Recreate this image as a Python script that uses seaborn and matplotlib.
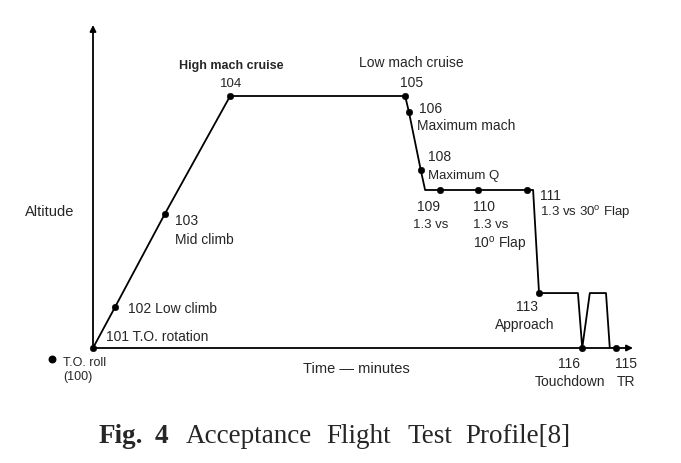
import numpy as np
import pandas as pd
import matplotlib
matplotlib.use('Agg')
import matplotlib.pyplot as plt
import seaborn as sns

# Profile path (time in arbitrary units, altitude in % of cruise altitude)
path_time = [0, 4.1, 13.3, 25.4, 57.8, 58.5, 60.7, 61.5, 64.3, 71.3, 80.4, 81.5,
             82.6, 89.8, 90.6, 92.0, 95.0, 95.7, 96.9]
path_alt = [0, 16.3, 53.2, 100, 100, 93.7, 70.6, 62.7, 62.7, 62.7, 62.7, 62.7,
            21.8, 21.8, 0, 21.8, 21.8, 0, 0]

# Test points (marked with dots)
point_ids = ['101', '102', '103', '104', '105', '106', '108', '109', '110', '111',
             '113', '116', '115']
point_time = [0, 4.1, 13.3, 25.4, 57.8, 58.5, 60.7, 64.3, 71.3, 80.4, 82.6, 90.6, 96.9]
point_alt = [0, 16.3, 53.2, 100, 100, 93.7, 70.6, 62.7, 62.7, 62.7, 21.8, 0, 0]

# T.O. roll point sits outside the axes
roll_time = -7.6
roll_alt = -4.4

path = pd.DataFrame({'time': path_time, 'alt': path_alt})
pts = pd.DataFrame({'id': point_ids, 'time': point_time, 'alt': point_alt})

sns.set_style('white')
plt.rcParams['font.family'] = ['Liberation Sans', 'DejaVu Sans']
plt.rcParams['mathtext.fontset'] = 'custom'
plt.rcParams['mathtext.rm'] = 'Liberation Sans'

fig = plt.figure(figsize=(6.81, 4.64), dpi=100)
ax = fig.add_axes([93 / 681, 1 - 349 / 464, 540 / 681, 323 / 464])

sns.lineplot(data=path, x='time', y='alt', ax=ax, color='black', lw=1.3,
             sort=False, estimator=None)
sns.scatterplot(data=pts, x='time', y='alt', ax=ax, color='black', s=22,
                edgecolor='black', zorder=3, clip_on=False)
ax.scatter([roll_time], [roll_alt], color='black', s=22, clip_on=False, zorder=3)

ax.set_xlim(0, 100)
ax.set_ylim(0, 100 * 323 / 252)
ax.set_xticks([])
ax.set_yticks([])
ax.set_xlabel('')
ax.set_ylabel('')
for s in ax.spines.values():
    s.set_visible(False)

# axis arrows
arrow = dict(arrowstyle='-|>', color='black', lw=1.3, mutation_scale=9,
             shrinkA=0, shrinkB=0)
ax.annotate('', xy=(0, 1), xytext=(0, 0), xycoords='axes fraction', arrowprops=arrow)
ax.annotate('', xy=(1, 0), xytext=(0, 0), xycoords='axes fraction', arrowprops=arrow)

# labels relative to the test points: (text, offset px, ha, size, weight)
labels = {
    '101': [('101 T.O. rotation', (13, 12), 'left', 10, 'normal')],
    '102': [('102 Low climb', (13, -1), 'left', 10, 'normal')],
    '103': [('103', (10, -6), 'left', 10, 'normal'), ('Mid climb', (10, -25), 'left', 10, 'normal')],
    '104': [('104', (1, 13), 'center', 9.5, 'normal'),
            ('High mach cruise', (1, 31), 'center', 9, 'bold')],
    '105': [('105', (6, 14), 'center', 10, 'normal'),
            ('Low mach cruise', (6, 34), 'center', 10, 'normal')],
    '106': [('106', (10, 4), 'left', 10, 'normal'), ('Maximum mach', (8, -13), 'left', 10, 'normal')],
    '108': [('108', (7, 14), 'left', 10, 'normal'), ('Maximum Q', (7, -5), 'left', 9.5, 'normal')],
    '109': [('109', (-12, -16), 'center', 10, 'normal'), ('1.3 vs', (-10, -34), 'center', 9.5, 'normal')],
    '110': [('110', (-5, -16), 'left', 10, 'normal'), ('1.3 vs', (-5, -34), 'left', 9.5, 'normal'),
            ('10$^{\\rm o}$ Flap', (-5, -54), 'left', 10, 'normal')],
    '111': [('111', (13, -5), 'left', 10, 'normal'),
            ('1.3 vs 30$^{\\rm o}$ Flap', (13, -22), 'left', 9.5, 'normal')],
    '113': [('113', (-12, -13), 'center', 10, 'normal'), ('Approach', (-14, -31), 'center', 10, 'normal')],
    '116': [('116', (-13, -15), 'center', 10, 'normal'), ('Touchdown', (-12, -33), 'center', 10, 'normal')],
    '115': [('115', (10, -15), 'center', 10, 'normal'), ('TR', (10, -33), 'center', 10, 'normal')],
}
for pid, t, a in zip(point_ids, point_time, point_alt):
    for txt, off, ha, size, wt in labels[pid]:
        ax.annotate(txt, xy=(t, a), xytext=off, textcoords='offset pixels',
                    ha=ha, va='center', fontsize=size, fontweight=wt,
                    annotation_clip=False)

ax.annotate('T.O. roll', xy=(roll_time, roll_alt), xytext=(11, -3),
            textcoords='offset pixels', ha='left', va='center', fontsize=9,
            annotation_clip=False)
ax.annotate('(100)', xy=(roll_time, roll_alt), xytext=(11, -17),
            textcoords='offset pixels', ha='left', va='center', fontsize=9,
            annotation_clip=False)

fig.text(25 / 681, 1 - 212 / 464, 'Altitude', ha='left', va='center', fontsize=10.5)
fig.text(303 / 681, 1 - 369 / 464, 'Time \u2014 minutes', ha='left', va='center',
         fontsize=10.5)

# caption
cap_y = 1 - 443 / 464
serif = ['Liberation Serif', 'DejaVu Serif']
fig.text(99 / 681, cap_y, 'Fig.', family=serif, weight='bold', fontsize=19.5, va='baseline')
fig.text(155 / 681, cap_y, '4', family=serif, weight='bold', fontsize=19.5, va='baseline')
for word, x in [('Acceptance', 186), ('Flight', 326), ('Test', 407), ('Profile[8]', 465)]:
    fig.text(x / 681, cap_y, word, family=serif, fontsize=19.5, va='baseline')

fig.savefig('out.png', dpi=100)
